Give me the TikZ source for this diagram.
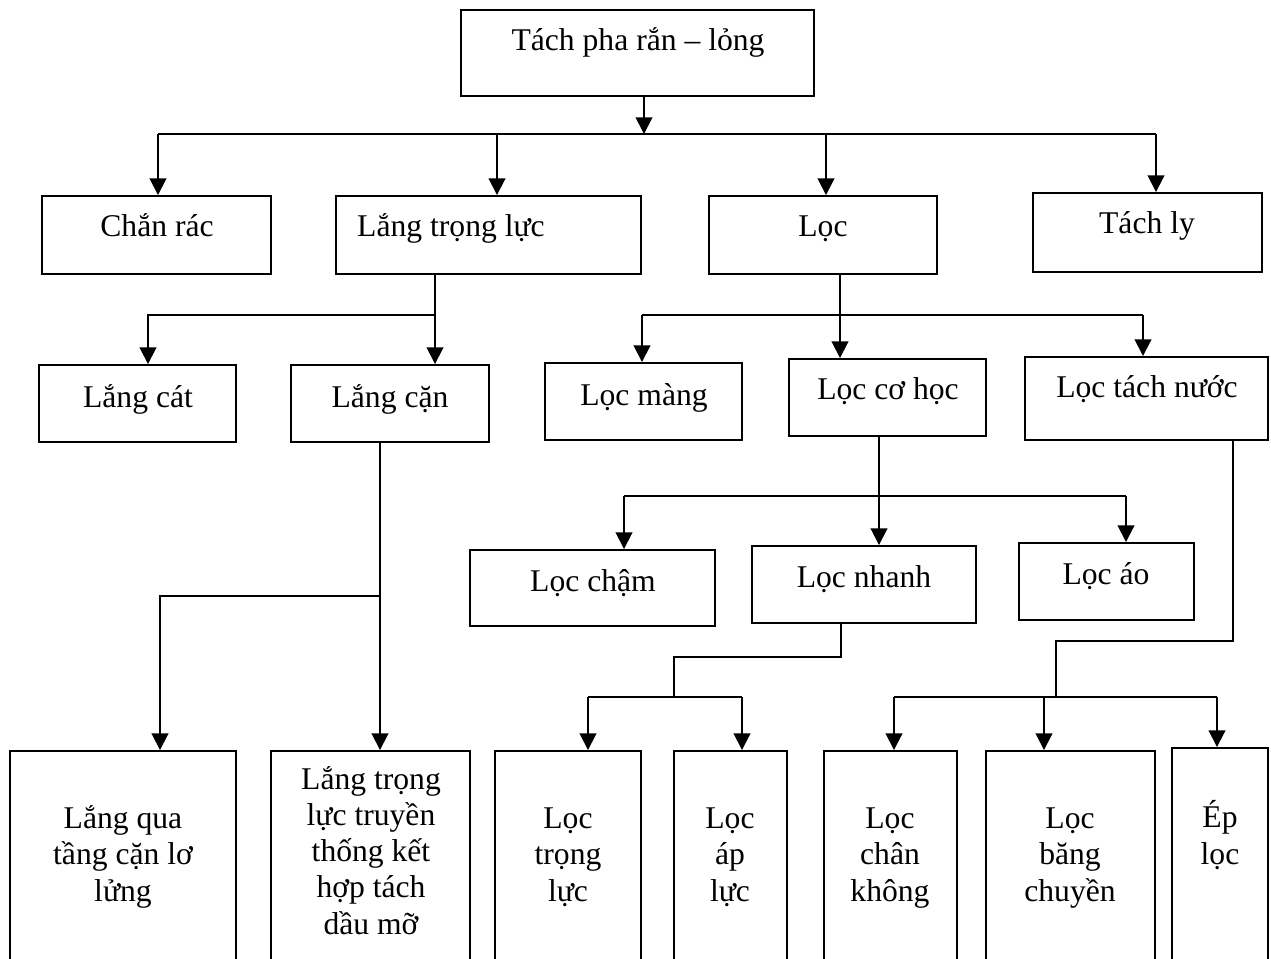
\documentclass[tikz,border=0pt]{standalone}
\usepackage{fontspec}
\setmainfont{Liberation Serif}
\usetikzlibrary{arrows.meta,fit}

\begin{document}
\begin{tikzpicture}[x=0.02cm, y=-0.02cm,
  box/.style={draw, line width=1.1pt, inner sep=0pt},
  lbl/.style={font=\fontsize{18}{20.5}\selectfont, anchor=base, inner sep=0pt, align=center},
  line/.style={line width=1.1pt},
  arr/.style={line width=1.1pt, -{Triangle[width=9.5pt,length=9.5pt]}}]

\useasboundingbox (0,0) rectangle (1271,959);
\clip (0,0) rectangle (1271,959);

% boxes
\node[box, fit={(461,10) (814,96)}] (root) {};

\node[box, fit={(42,196) (271,274)}] (chanrac) {};
\node[box, fit={(336,196) (641,274)}] (langtl) {};
\node[box, fit={(709,196) (937,274)}] (loc) {};
\node[box, fit={(1033,193) (1262,272)}] (tachly) {};

\node[box, fit={(39,365) (236,442)}] (langcat) {};
\node[box, fit={(291,365) (489,442)}] (langcan) {};
\node[box, fit={(545,363) (742,440)}] (locmang) {};
\node[box, fit={(789,359) (986,436)}] (loccohoc) {};
\node[box, fit={(1025,357) (1268,440)}] (loctachnuoc) {};

\node[box, fit={(470,550) (715,626)}] (locham) {};
\node[box, fit={(752,546) (976,623)}] (locnhanh) {};
\node[box, fit={(1019,543) (1194,620)}] (locao) {};

\node[box, fit={(10,751) (236,980)}] (langqua) {};
\node[box, fit={(271,751) (470,980)}] (langtt) {};
\node[box, fit={(495,751) (641,980)}] (loctl) {};
\node[box, fit={(674,751) (787,980)}] (local) {};
\node[box, fit={(824,751) (957,980)}] (locck) {};
\node[box, fit={(986,751) (1155,980)}] (locbc) {};
\node[box, fit={(1172,748) (1268,980)}] (eploc) {};

% texts
\node[lbl] (troot) at (638,51) {Tách pha rắn – lỏng};

\node[lbl] (tchanrac) at (157,237) {Chắn rác};
\node[lbl] (tlangtl) at (451,237) {Lắng trọng lực};
\node[lbl] (tloc) at (823,237) {Lọc};
\node[lbl] (ttachly) at (1147,234) {Tách ly};

\node[lbl] (tlangcat) at (138,407) {Lắng cát};
\node[lbl] (tlangcan) at (390,407) {Lắng cặn};
\node[lbl] (tlocmang) at (644,405) {Lọc màng};
\node[lbl] (tloccohoc) at (888,399) {Lọc cơ học};
\node[lbl] (tloctachnuoc) at (1147,398) {Lọc tách nước};

\node[lbl] (tlocham) at (593,591) {Lọc chậm};
\node[lbl] (tlocnhanh) at (864,587) {Lọc nhanh};
\node[lbl] (tlocao) at (1106,584) {Lọc áo};

\node[lbl] (tlangqua) at (123,901) {Lắng qua\\tầng cặn lơ\\lửng};
\node[lbl] (tlangtt) at (371,934) {Lắng trọng\\lực truyền\\thống kết\\hợp tách\\dầu mỡ};
\node[lbl] (tloctl) at (568,901) {Lọc\\trọng\\lực};
\node[lbl] (tlocal) at (730,901) {Lọc\\áp\\lực};
\node[lbl] (tlocck) at (890,901) {Lọc\\chân\\không};
\node[lbl] (tlocbc) at (1070,901) {Lọc\\băng\\chuyền};
\node[lbl] (teploc) at (1220,864) {Ép\\lọc};

% level 0 -> 1
\coordinate (j0) at (644,134);
\coordinate (a1) at (158,134);
\coordinate (a2) at (497,134);
\coordinate (a3) at (826,134);
\coordinate (a4) at (1156,134);
\draw[arr] (root.south -| j0) -- (j0);
\draw[line] (a1) -- (a4);
\draw[arr] (a1) -- (a1 |- chanrac.north);
\draw[arr] (a2) -- (a2 |- langtl.north);
\draw[arr] (a3) -- (a3 |- loc.north);
\draw[arr] (a4) -- (a4 |- tachly.north);

% lang trong luc
\coordinate (j1) at (435,315);
\coordinate (a5) at (148,315);
\draw[arr] (langtl.south -| j1) -- (j1 |- langcan.north);
\draw[arr] (j1) -- (a5) -- (a5 |- langcat.north);

% loc
\coordinate (j2) at (840,315);
\coordinate (a6) at (642,315);
\coordinate (a7) at (1143,315);
\draw[arr] (loc.south -| j2) -- (j2 |- loccohoc.north);
\draw[line] (a6) -- (a7);
\draw[arr] (a6) -- (a6 |- locmang.north);
\draw[arr] (a7) -- (a7 |- loctachnuoc.north);

% loc co hoc
\coordinate (j3) at (879,496);
\coordinate (a8) at (624,496);
\coordinate (a9) at (1126,496);
\draw[arr] (loccohoc.south -| j3) -- (j3 |- locnhanh.north);
\draw[line] (a8) -- (a9);
\draw[arr] (a8) -- (a8 |- locham.north);
\draw[arr] (a9) -- (a9 |- locao.north);

% lang can
\coordinate (j4) at (380,596);
\coordinate (a10) at (160,596);
\draw[arr] (langcan.south -| j4) -- (j4 |- langtt.north);
\draw[arr] (j4) -- (a10) -- (a10 |- langqua.north);

% loc nhanh
\coordinate (k1) at (841,657);
\coordinate (k2) at (674,657);
\coordinate (j5) at (674,697);
\coordinate (a11) at (588,697);
\coordinate (a12) at (742,697);
\draw[line] (locnhanh.south -| k1) -- (k1) -- (k2) -- (j5);
\draw[line] (a11) -- (a12);
\draw[arr] (a11) -- (a11 |- loctl.north);
\draw[arr] (a12) -- (a12 |- local.north);

% loc tach nuoc
\coordinate (k3) at (1233,641);
\coordinate (k4) at (1056,641);
\coordinate (j6) at (1056,697);
\coordinate (a13) at (894,697);
\coordinate (a14) at (1044,697);
\coordinate (a15) at (1217,697);
\draw[line] (loctachnuoc.south -| k3) -- (k3) -- (k4) -- (j6);
\draw[line] (a13) -- (a15);
\draw[arr] (a13) -- (a13 |- locck.north);
\draw[arr] (a14) -- (a14 |- locbc.north);
\draw[arr] (a15) -- (a15 |- eploc.north);

\end{tikzpicture}
\end{document}
